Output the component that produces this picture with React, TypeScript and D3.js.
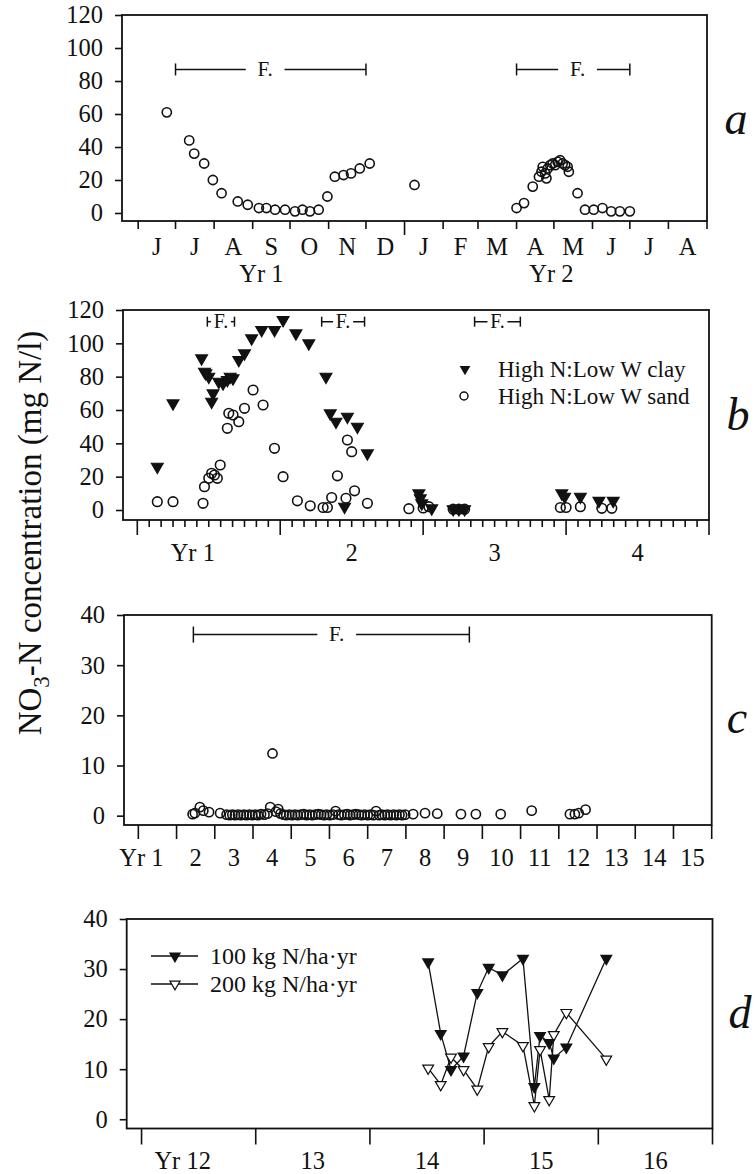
import React, { useEffect, useRef } from "react";
import * as d3 from "d3";

const FONT = "'Liberation Serif', 'Times New Roman', serif";
const TICK_FONT = 24.5;

// ---- panel a : dates as "yr-mm-dd", value mg N/l
const aSeries = [
  ["1-06-24", 61], ["1-07-12", 44], ["1-07-16", 36], ["1-07-24", 30], ["1-07-31", 20],
  ["1-08-07", 12], ["1-08-20", 7], ["1-08-28", 5], ["1-09-06", 3], ["1-09-12", 3],
  ["1-09-19", 2], ["1-09-27", 2], ["1-10-05", 1], ["1-10-11", 2], ["1-10-17", 1],
  ["1-10-24", 2], ["1-10-31", 10], ["1-11-06", 22], ["1-11-13", 23], ["1-11-19", 24],
  ["1-11-26", 27], ["1-12-04", 30], ["2-01-09", 17],
  ["2-04-01", 3], ["2-04-07", 6], ["2-04-14", 16], ["2-04-19", 22], ["2-04-21", 25],
  ["2-04-22", 28], ["2-04-24", 24], ["2-04-25", 21], ["2-04-26", 27], ["2-04-28", 29],
  ["2-04-30", 30], ["2-05-02", 29], ["2-05-04", 31], ["2-05-06", 32], ["2-05-08", 30],
  ["2-05-10", 29], ["2-05-12", 28], ["2-05-13", 25], ["2-05-20", 12], ["2-05-26", 2],
  ["2-06-02", 2], ["2-06-09", 3], ["2-06-16", 1], ["2-06-23", 1], ["2-07-01", 1],
];
const aMonths = ["J", "J", "A", "S", "O", "N", "D", "J", "F", "M", "A", "M", "J", "J", "A"];
const aYears = [["Yr 1", "1-09-08"], ["Yr 2", "2-04-29"]];
// fertilisation periods: from, to, label position
const aFert = [["1-07-01", "1-12-01", "1-09-11"], ["2-04-01", "2-07-01", "2-05-20"]];

// ---- panel b : time in years
const bClay = [
  [1.14, 26], [1.25, 64], [1.45, 91], [1.47, 83], [1.48, 82], [1.50, 80], [1.52, 65],
  [1.53, 70], [1.57, 77], [1.60, 76], [1.63, 78], [1.65, 80], [1.67, 79], [1.71, 90],
  [1.75, 94], [1.80, 103], [1.87, 108], [1.96, 108], [2.02, 114], [2.11, 106], [2.20, 100],
  [2.32, 80], [2.35, 58], [2.39, 53], [2.45, 2], [2.47, 56], [2.54, 50], [2.61, 34],
  [2.97, 10], [2.98, 7], [2.99, 4], [3.06, 1], [3.21, 0.5], [3.25, 0.5], [3.29, 0.5],
  [3.97, 10], [3.99, 8], [4.10, 8], [4.23, 5.5], [4.33, 5.5],
];
const bSand = [
  [1.14, 5], [1.25, 5], [1.46, 4], [1.47, 14], [1.50, 19], [1.52, 22], [1.54, 21],
  [1.56, 19], [1.58, 27], [1.63, 49], [1.64, 58], [1.67, 57], [1.71, 53], [1.75, 61],
  [1.81, 72], [1.88, 63], [1.96, 37], [2.02, 20], [2.12, 5.5], [2.21, 2.5], [2.30, 1.5],
  [2.33, 1.5], [2.36, 7.5], [2.40, 20.5], [2.46, 7], [2.47, 42], [2.50, 35], [2.52, 11.5],
  [2.61, 4], [2.90, 0.8], [3.00, 1.2], [3.04, 2], [3.21, 0.5], [3.25, 0.5], [3.29, 0.5],
  [3.96, 1.5], [4.00, 1.5], [4.10, 2], [4.25, 1], [4.32, 1],
];
const bYears = ["Yr 1", "2", "3", "4"];
const bFert = [[1.49, 1.68], [2.29, 2.59], [3.36, 3.68]];
const bLegend = ["High N:Low W clay", "High N:Low W sand"];

// ---- panel c
const cSeries = [
  [2.42, 0.3], [2.48, 0.5], [2.61, 1.7], [2.70, 1.0], [2.85, 0.7], [3.14, 0.5],
  [3.31, 0.2], [3.39, 0.1], [3.46, 0.2], [3.53, 0.1], [3.61, 0.2], [3.68, 0.1], [3.76, 0.2],
  [3.83, 0.1], [3.91, 0.2], [3.98, 0.1], [4.06, 0.2], [4.13, 0.1], [4.21, 0.3], [4.30, 0.2],
  [4.38, 0.4], [4.45, 1.7], [4.51, 12.4], [4.60, 0.8], [4.66, 1.3],
  [4.72, 0.4], [4.80, 0.2], [4.87, 0.1], [4.95, 0.2], [5.02, 0.1], [5.10, 0.2], [5.17, 0.1],
  [5.25, 0.2], [5.33, 0.3], [5.40, 0.1], [5.48, 0.2], [5.55, 0.1], [5.63, 0.2], [5.71, 0.3],
  [5.78, 0.2], [5.86, 0.1], [5.93, 0.2], [6.01, 0.1], [6.09, 0.2], [6.16, 0.9], [6.24, 0.2],
  [6.31, 0.1], [6.39, 0.2], [6.47, 0.3], [6.54, 0.1], [6.62, 0.2], [6.69, 0.3], [6.77, 0.2],
  [6.84, 0.1], [6.92, 0.2], [7.00, 0.1], [7.07, 0.2], [7.15, 0.1], [7.22, 0.9], [7.30, 0.1],
  [7.37, 0.2], [7.45, 0.1], [7.52, 0.2], [7.60, 0.1], [7.68, 0.2], [7.75, 0.1], [7.83, 0.2],
  [7.90, 0.1], [7.98, 0.2],
  [8.19, 0.3], [8.50, 0.5], [8.82, 0.4], [9.44, 0.3], [9.83, 0.3], [10.48, 0.3],
  [11.29, 1.0], [12.29, 0.3], [12.42, 0.3], [12.52, 0.5], [12.70, 1.2],
];
const cYears = ["Yr 1", "2", "3", "4", "5", "6", "7", "8", "9", "10", "11", "12", "13", "14", "15"];
const cFert = [2.44, 9.66, 6.19];

// ---- panel d
const dTimes = [14.51, 14.62, 14.71, 14.82, 14.94, 15.04, 15.16, 15.34, 15.44, 15.49, 15.57, 15.61, 15.72, 16.07];
const d100 = [31.4, 17.1, 9.9, 12.6, 25.3, 30.3, 28.8, 32.1, 6.5, 16.7, 15.3, 12.2, 14.4, 32.1];
const d200 = [10.2, 6.9, 12.4, 9.9, 6.0, 14.5, 17.5, 14.7, 2.7, 13.9, 3.9, 16.9, 21.3, 12.0];
const dYears = ["Yr 12", "13", "14", "15", "16"];
const dLegend = ["100 kg N/ha\u00b7yr", "200 kg N/ha\u00b7yr"];

const toDate = (s) => {
  const [y, m, d] = s.split("-").map(Number);
  return new Date(2000 + y, m - 1, d);
};

const App = () => {
  const ref = useRef<SVGSVGElement>(null);

  useEffect(() => {
    const svg = d3.select(ref.current);
    svg.selectAll("*").remove();

    const frame = (x, y) => {
      const [x0, x1] = x.range();
      const [y1, y0] = y.range();
      svg.append("rect")
        .attr("x", x0).attr("y", y0)
        .attr("width", x1 - x0).attr("height", y1 - y0)
        .attr("fill", "none").attr("stroke", "#111").attr("stroke-width", 1.8);
    };

    const yAxis = (y, ticks, x0) => {
      svg.append("g")
        .attr("transform", `translate(${x0},0)`)
        .call(d3.axisLeft(y).tickValues(ticks).tickSize(7).tickPadding(12))
        .call(g => g.select(".domain").remove())
        .call(g => g.selectAll("line").attr("stroke", "#111").attr("stroke-width", 1.6))
        .call(g => g.selectAll("text").attr("fill", "#111"))
        .attr("font-family", FONT).attr("font-size", TICK_FONT);
    };

    const xTicks = (x, y0, values, len) => {
      svg.append("g")
        .selectAll("line").data(values).join("line")
        .attr("x1", d => x(d)).attr("x2", d => x(d))
        .attr("y1", y0).attr("y2", (d, i) => y0 + (typeof len === "function" ? len(d, i) : len))
        .attr("stroke", "#111").attr("stroke-width", 1.6);
    };

    const label = (x, y, txt, size = TICK_FONT, anchor = "middle", style = "normal") =>
      svg.append("text").attr("x", x).attr("y", y).text(txt)
        .attr("font-family", FONT).attr("font-size", size)
        .attr("font-style", style).attr("text-anchor", anchor).attr("fill", "#111");

    // "Yr n" label with the number centred on position
    const yrLabel = (xPos, y, txt, size = TICK_FONT) => {
      if (txt.startsWith("Yr ")) {
        const num = txt.slice(3);
        label(xPos, y, num, size);
        label(xPos - num.length * size * 0.25 - size * 0.25, y, "Yr", size, "end");
      } else label(xPos, y, txt, size);
    };

    const fBar = (x0, x1, xt, y, size, pad, cap) => {
      const g = svg.append("g");
      g.append("line").attr("x1", x0).attr("x2", x1).attr("y1", y).attr("y2", y)
        .attr("stroke", "#111").attr("stroke-width", 1.5);
      [x0, x1].forEach(v => g.append("line").attr("x1", v).attr("x2", v)
        .attr("y1", y - cap).attr("y2", y + cap).attr("stroke", "#111").attr("stroke-width", 1.5));
      const w = size * 0.8 + pad * 2;
      g.append("rect").attr("x", xt - w / 2).attr("y", y - size / 2).attr("width", w)
        .attr("height", size).attr("fill", "#fff");
      g.append("text").attr("x", xt).attr("y", y + size * 0.33).text("F.")
        .attr("font-family", FONT).attr("font-size", size).attr("text-anchor", "middle").attr("fill", "#111");
    };

    const circles = (data, x, y, r) => {
      svg.append("g").selectAll("circle").data(data).join("circle")
        .attr("cx", d => x(d[0])).attr("cy", d => y(d[1])).attr("r", r)
        .attr("fill", "none").attr("stroke", "#111").attr("stroke-width", 1.6);
    };

    const tri = (size) => d3.symbol(d3.symbolTriangle, size)();
    const triangles = (data, x, y, size, filled) => {
      svg.append("g").selectAll("path").data(data).join("path")
        .attr("d", tri(size))
        .attr("transform", d => `translate(${x(d[0])},${y(d[1])}) rotate(180)`)
        .attr("fill", filled ? "#111" : "#fff").attr("stroke", "#111").attr("stroke-width", 1.2);
    };

    // ===== panel a
    {
      const x = d3.scaleTime().domain([toDate("1-05-19"), toDate("2-09-01")]).range([122, 707]);
      const y = d3.scaleLinear().domain([-4.85, 120]).range([221, 15]);
      frame(x, y);
      yAxis(y, d3.range(0, 121, 20), 122);
      const months = d3.timeMonth.range(toDate("1-06-01"), toDate("2-09-02"));
      xTicks(x, 221, months, d => (d.getMonth() === 0 ? 14 : 8));
      aMonths.forEach((m, i) => label((x(months[i]) + x(months[i + 1])) / 2, 255, m));
      aYears.forEach(([t, d]) => label(x(toDate(d)), 282, t));
      aFert.forEach(([a, b, c]) => fBar(x(toDate(a)), x(toDate(b)), x(toDate(c)), y(87), 21, 11, 6));
      circles(aSeries.map(([d, v]) => [toDate(d), v]), x, y, 4.6);
      label(736, 134, "a", 46, "middle", "italic");
    }

    // ===== panel b
    {
      const x = d3.scaleLinear().domain([0.9, 5]).range([123, 709]);
      const y = d3.scaleLinear().domain([-6, 120]).range([520, 310]);
      frame(x, y);
      yAxis(y, d3.range(0, 121, 20), 123);
      const major = d3.range(1, 6);
      const minor = d3.range(1, 5).flatMap(k => d3.range(1, 12).map(m => k + m / 12));
      xTicks(x, 520, major, 15);
      xTicks(x, 520, minor, 7);
      bYears.forEach((t, i) => yrLabel(x(i + 1.5), 561, t));
      bFert.forEach(([a, b]) => fBar(x(a), x(b), (x(a) + x(b)) / 2, y(113), 20, 2, 5));
      circles(bSand, x, y, 4.8);
      triangles(bClay, x, y, 60, true);
      // legend
      svg.append("path").attr("d", tri(50)).attr("transform", "translate(465,369) rotate(180)").attr("fill", "#111");
      svg.append("circle").attr("cx", 464).attr("cy", 396).attr("r", 4)
        .attr("fill", "none").attr("stroke", "#111").attr("stroke-width", 1.5);
      bLegend.forEach((t, i) => label(498, 377 + i * 27, t, 23, "start"));
      label(738, 430, "b", 46, "middle", "italic");
    }

    // ===== panel c
    {
      const x = d3.scaleLinear().domain([0.625, 16]).range([124, 711.7]);
      const y = d3.scaleLinear().domain([-1.86, 40]).range([825, 615]);
      frame(x, y);
      yAxis(y, d3.range(0, 41, 10), 124);
      xTicks(x, 825, d3.range(1, 17), 14);
      cYears.forEach((t, i) => yrLabel(x(i + 1.5), 866, t));
      fBar(x(cFert[0]), x(cFert[1]), x(cFert[2]), y(36.1), 21, 11, 8);
      circles(cSeries, x, y, 4.6);
      label(737, 733, "c", 46, "middle", "italic");
    }

    // ===== panel d
    {
      const x = d3.scaleLinear().domain([11.87, 17]).range([126.7, 712.5]);
      const y = d3.scaleLinear().domain([-1.85, 40]).range([1128.5, 919]);
      frame(x, y);
      yAxis(y, d3.range(0, 41, 10), 126.7);
      xTicks(x, 1128.5, d3.range(12, 18), 16);
      dYears.forEach((t, i) => yrLabel(x(12.5 + i), 1169, t));
      const line = d3.line().x(d => x(d[0])).y(d => y(d[1]));
      const s100 = dTimes.map((t, i) => [t, d100[i]]);
      const s200 = dTimes.map((t, i) => [t, d200[i]]);
      [s200, s100].forEach(s => svg.append("path").datum(s).attr("d", line)
        .attr("fill", "none").attr("stroke", "#111").attr("stroke-width", 1.3));
      triangles(s200, x, y, 50, false);
      triangles(s100, x, y, 50, true);
      // legend
      dLegend.forEach((t, i) => {
        const yy = 956 + i * 28;
        svg.append("line").attr("x1", 151).attr("x2", 198).attr("y1", yy).attr("y2", yy)
          .attr("stroke", "#111").attr("stroke-width", 1.3);
        svg.append("path").attr("d", tri(45)).attr("transform", `translate(175,${yy}) rotate(180)`)
          .attr("fill", i === 0 ? "#111" : "#fff").attr("stroke", "#111").attr("stroke-width", 1.2);
        label(210, yy + 8, t, 24, "start");
      });
      label(740, 1028, "d", 46, "middle", "italic");
    }

    // y axis title
    const title = svg.append("text")
      .attr("transform", "translate(41,533) rotate(-90)")
      .attr("font-family", FONT).attr("font-size", 33).attr("text-anchor", "middle").attr("fill", "#111");
    title.append("tspan").text("NO");
    title.append("tspan").text("3").attr("font-size", 23).attr("dy", 8);
    title.append("tspan").text("-N concentration (mg N/l)").attr("dy", -8);
  }, []);

  return (
    <svg ref={ref} width={756} height={1174}
      style={{ position: "absolute", left: 0, top: 0, background: "#fff" }} />
  );
};

export default App;
